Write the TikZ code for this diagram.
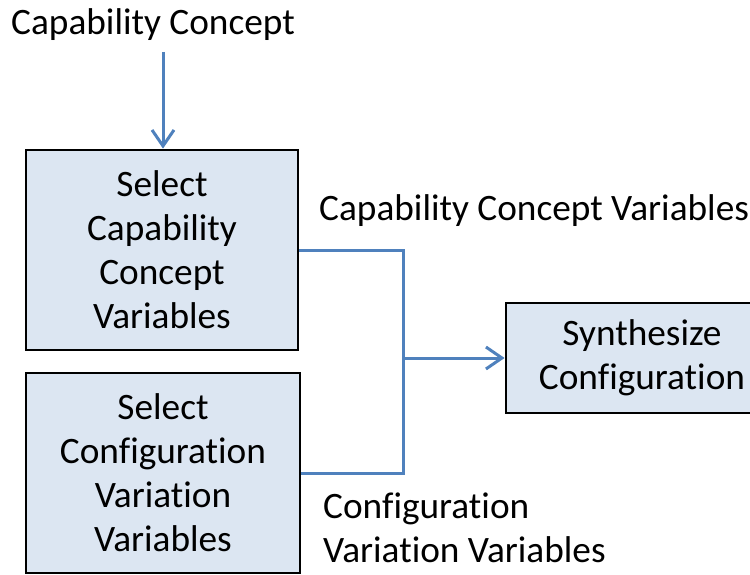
\documentclass[tikz,border=0pt]{standalone}
\usepackage{fontspec}
\setmainfont{Carlito}[Ligatures=NoCommon]
\usetikzlibrary{arrows.meta}
\definecolor{boxfill}{HTML}{DCE6F2}
\definecolor{flowblue}{HTML}{4F81BD}
\tikzset{
  procbox/.style={draw=black, line width=2.8pt, fill=boxfill, inner sep=0pt,
    align=center, font=\fontsize{37.3}{44}\selectfont},
  lbl/.style={inner sep=0pt, font=\fontsize{37.3}{44}\selectfont},
  flow/.style={draw=flowblue, line width=3pt},
  flowarrow/.style={flow, -{Straight Barb[length=16pt,width=22pt,line width=3pt]}}
}
\begin{document}
\begin{tikzpicture}[x=1pt, y=-1pt]
  \useasboundingbox (0,0) rectangle (750,575);
  \clip (0,0) rectangle (750,575);

  % process boxes
  \node[procbox, minimum width=272pt, minimum height=200pt] (ccv) at (162,250)
    {Select\\Capability\\Concept\\Variables};
  \node[procbox, minimum width=274pt, minimum height=200pt] (cvv) at (163,473)
    {Select\\Configuration\\Variation\\Variables};
  \node[procbox, minimum width=272pt, minimum height=110pt] (syn) at (642,358)
    {Synthesize\\Configuration};

  % labels
  \node[lbl, anchor=base west] (concept) at (11,35) {Capability Concept};
  \node[lbl, anchor=base west] (ccvlbl) at (319,220) {Capability Concept Variables};
  \node[lbl, anchor=base west, align=left] (cvvlbl) at (323,562)
    {Configuration\\Variation Variables};

  % connectors
  \coordinate (src) at (163,52);
  \coordinate (join) at (403,358);
  \draw[flowarrow] (src) -- (ccv.north -| src);
  \draw[flow] (ccv.east) -| (join);
  \draw[flow] (cvv.east) -| (join);
  \draw[flowarrow] (join) -- (syn.west);
\end{tikzpicture}
\end{document}
